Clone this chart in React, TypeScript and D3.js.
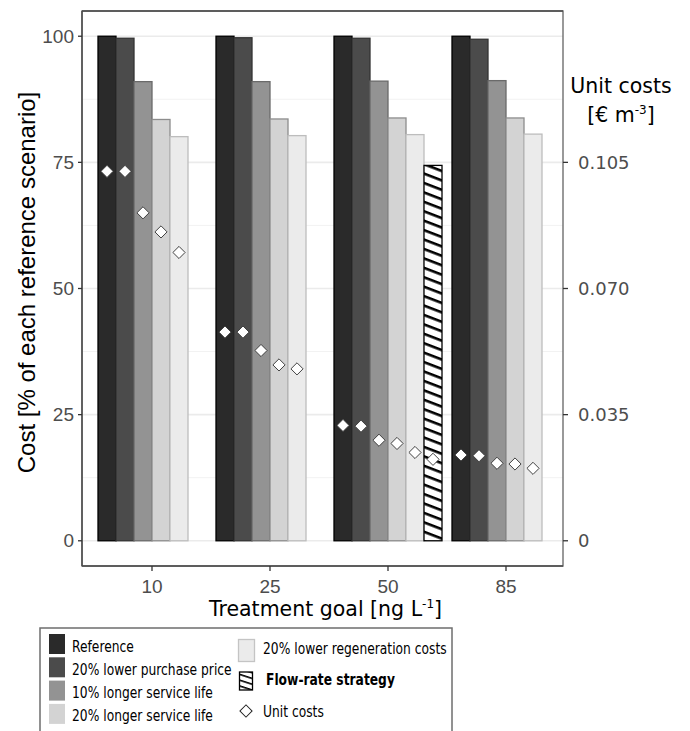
import React from "react";
import * as d3 from "d3";

// ---------- data ----------
const goals = ["10", "25", "50", "85"];
const scenarios = [
  "Reference",
  "20% lower purchase price",
  "10% longer service life",
  "20% longer service life",
  "20% lower regeneration costs",
  "Flow-rate strategy",
];
// cost in % of each reference scenario
const costReference = [100, 100, 100, 100];
const costPurchase = [99.6, 99.7, 99.6, 99.4];
const costService10 = [91.0, 91.0, 91.1, 91.2];
const costService20 = [83.5, 83.6, 83.8, 83.8];
const costRegen = [80.1, 80.3, 80.5, 80.6];
const costFlowRate: (number | null)[] = [null, null, 74.4, null];
// unit costs in € m-3
const unitReference = [0.1025, 0.0579, 0.032, 0.0238];
const unitPurchase = [0.1025, 0.0579, 0.0318, 0.0236];
const unitService10 = [0.091, 0.0528, 0.0279, 0.0215];
const unitService20 = [0.0857, 0.0488, 0.027, 0.0213];
const unitRegen = [0.08, 0.0477, 0.0245, 0.0201];
const unitFlowRate: (number | null)[] = [null, null, 0.0226, null];
const leftTicks = [0, 25, 50, 75, 100];
const leftMinor = [12.5, 37.5, 62.5, 87.5];
const rightTicks = [0, 0.035, 0.07, 0.105];

const costSeries = [costReference, costPurchase, costService10, costService20, costRegen, costFlowRate];
const unitSeries = [unitReference, unitPurchase, unitService10, unitService20, unitRegen, unitFlowRate];

// ---------- styles ----------
const fills = ["#2a2a2a", "#4b4b4b", "#939393", "#d3d3d3", "#ebebeb", "url(#hatch)"];
const strokes = ["#000000", "#333333", "#6a6a6a", "#8d8d8d", "#bdbdbd", "#000000"];

const W = 690;
const H = 731;
const P = { left: 82, right: 563, top: 11, bottom: 566 };
const RATIO = 0.0014; // € m-3 per %

export default function App() {
  const x = d3.scalePoint<string>().domain(goals).range([P.left + 70, P.right - 57]);
  const slot = d3.scaleBand<number>().domain(d3.range(scenarios.length)).range([-54, 54]);
  const y = d3.scaleLinear().domain([-5, 105]).range([P.bottom, P.top]);
  const y2 = d3.scaleLinear().domain([-5 * RATIO, 105 * RATIO]).range([P.bottom, P.top]);
  const bw = slot.bandwidth();
  const diamond = d3.symbol(d3.symbolSquare, 74)()!;
  const fmtR = (v: number) => (v === 0 ? "0" : d3.format(".3f")(v));

  const tickFont = "'Liberation Sans', Arial, sans-serif";
  const dvFont = "'DejaVu Sans', Verdana, sans-serif";

  const legendLeft = [0, 1, 2, 3];
  return (
    <svg width={W} height={H} style={{ position: "absolute", left: 0, top: 0, display: "block", background: "#fff" }}>
      <defs>
        <pattern id="hatch" patternUnits="userSpaceOnUse" width={10} height={8.8} patternTransform="rotate(21)">
          <rect width={10} height={8.8} fill="#fff" />
          <rect y={0} width={10} height={2.6} fill="#000" />
        </pattern>
        <pattern id="hatchKey" patternUnits="userSpaceOnUse" width={10} height={5.5} patternTransform="rotate(18)">
          <rect width={10} height={5.5} fill="#fff" />
          <rect y={0} width={10} height={1.6} fill="#000" />
        </pattern>
      </defs>
      {/* grid */}
      {leftMinor.map((v) => (
        <line key={"mn" + v} x1={P.left} x2={P.right} y1={y(v)} y2={y(v)} stroke="#f2f2f2" strokeWidth={1} />
      ))}
      {leftTicks.map((v) => (
        <line key={"mj" + v} x1={P.left} x2={P.right} y1={y(v)} y2={y(v)} stroke="#ebebeb" strokeWidth={1.6} />
      ))}
      {/* bars */}
      {costSeries.map((ser, s) =>
        ser.map((v, g) =>
          v == null ? null : (
            <rect
              key={`b${s}-${g}`}
              x={x(goals[g])! + slot(s)!}
              y={y(v)}
              width={bw}
              height={y(0) - y(v)}
              fill={fills[s]}
              stroke={strokes[s]}
              strokeWidth={1.3}
            />
          )
        )
      )}
      {/* unit cost diamonds */}
      {unitSeries.map((ser, s) =>
        ser.map((v, g) =>
          v == null ? null : (
            <path
              key={`d${s}-${g}`}
              d={diamond}
              transform={`translate(${x(goals[g])! + slot(s)! + bw / 2},${y2(v)}) rotate(45)`}
              fill="#fff"
              stroke="#3a3a3a"
              strokeWidth={0.9}
            />
          )
        )
      )}
      {/* panel border */}
      <rect x={P.left} y={P.top} width={P.right - P.left} height={P.bottom - P.top} fill="none" stroke="#6e6e6e" strokeWidth={1.4} />
      <line x1={P.left} x2={P.right} y1={P.top} y2={P.top} stroke="#4a4a4a" strokeWidth={1.6} />
      <line x1={P.left} x2={P.left} y1={P.top} y2={P.bottom} stroke="#4a4a4a" strokeWidth={1.4} />
      <line x1={P.left} x2={P.right} y1={P.bottom} y2={P.bottom} stroke="#4a4a4a" strokeWidth={1.4} />
      {/* left axis */}
      {leftTicks.map((v) => (
        <g key={"lt" + v}>
          <line x1={P.left - 4} x2={P.left} y1={y(v)} y2={y(v)} stroke="#333" strokeWidth={1.3} />
          <text x={P.left - 8} y={y(v) + 6.5} textAnchor="end" fontFamily={tickFont} fontSize={19} fill="#4d4d4d">
            {v}
          </text>
        </g>
      ))}
      {/* right axis */}
      {rightTicks.map((v) => (
        <g key={"rt" + v}>
          <line x1={P.right} x2={P.right + 5} y1={y2(v)} y2={y2(v)} stroke="#333" strokeWidth={1.3} />
          <text x={P.right + 15} y={y2(v) + 6.5} textAnchor="start" fontFamily={dvFont} fontSize={18} fill="#4d4d4d">
            {fmtR(v)}
          </text>
        </g>
      ))}
      {/* bottom axis */}
      {goals.map((g) => (
        <g key={"bt" + g}>
          <line x1={x(g)!} x2={x(g)!} y1={P.bottom} y2={P.bottom + 5} stroke="#333" strokeWidth={1.3} />
          <text x={x(g)!} y={P.bottom + 27} textAnchor="middle" fontFamily={tickFont} fontSize={19} fill="#4d4d4d">
            {g}
          </text>
        </g>
      ))}
      {/* axis titles */}
      <text
        transform={`translate(35,${(P.top + P.bottom) / 2 - 6}) rotate(-90)`}
        textAnchor="middle"
        fontFamily={tickFont}
        fontSize={24}
        fill="#000"
      >
        Cost [% of each reference scenario]
      </text>
      <text x={(P.left + P.right) / 2 + 3} y={616} textAnchor="middle" fontFamily={dvFont} fontSize={20.5} fill="#000">
        Treatment goal [ng L
        <tspan fontSize={12} dy={-8}>-1</tspan>
        <tspan dy={8}>]</tspan>
      </text>
      <text x={621} y={93} textAnchor="middle" fontFamily={dvFont} fontSize={20.5} fill="#000">
        Unit costs
      </text>
      <text x={621} y={122} textAnchor="middle" fontFamily={dvFont} fontSize={20.5} fill="#000">
        [€ m
        <tspan fontSize={12} dy={-8}>-3</tspan>
        <tspan dy={8}>]</tspan>
      </text>
      {/* legend */}
      <rect x={40} y={628} width={412} height={130} fill="#fff" stroke="#6e6e6e" strokeWidth={1.5} />
      {legendLeft.map((i) => (
        <g key={"lg" + i}>
          <rect x={49} y={634 + i * 23.3} width={16} height={20} fill={fills[i]} />
          <g transform={`translate(72,${651.5 + i * 23.3}) scale(0.82,1)`}>
            <text fontFamily={dvFont} fontSize={15} fill="#000">
              {scenarios[i]}
            </text>
          </g>
        </g>
      ))}
      <rect x={238.5} y={639.5} width={16} height={22} fill={fills[4]} stroke="#c4c4c4" strokeWidth={1.3} />
      <g transform={`translate(263,654) scale(0.82,1)`}>
        <text fontFamily={dvFont} fontSize={15} fill="#000">
          {scenarios[4]}
        </text>
      </g>
      <rect x={239.5} y={672} width={13} height={18} fill="url(#hatchKey)" stroke="#000" strokeWidth={1.3} />
      <g transform={`translate(266,685) scale(0.82,1)`}>
        <text fontFamily={dvFont} fontSize={15} fontWeight="bold" fill="#000">
          {scenarios[5]}
        </text>
      </g>
      <path d={diamond} transform="translate(246,711) rotate(45)" fill="#fff" stroke="#222" strokeWidth={1} />
      <g transform={`translate(263,717) scale(0.82,1)`}>
        <text fontFamily={dvFont} fontSize={15} fill="#000">
          Unit costs
        </text>
      </g>
    </svg>
  );
}
